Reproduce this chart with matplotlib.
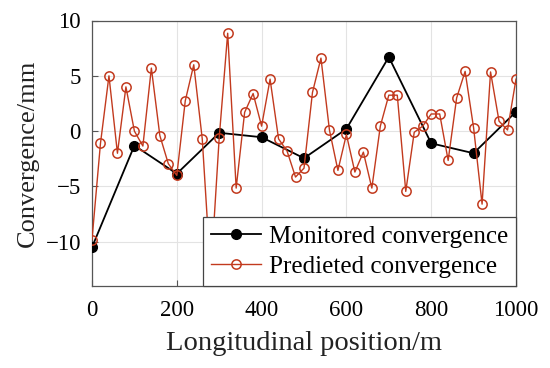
import matplotlib
matplotlib.use("Agg")
import matplotlib.pyplot as plt

mon_x = [0, 100, 200, 300, 400, 500, 600, 700, 800, 900, 1000]
mon_y = [-10.5, -1.3, -3.85, -0.15, -0.55, -2.45, 0.2, 6.7, -1.1, -2.0, 1.75]

pred_x = list(range(0, 1001, 20))
pred_y = [-9.8, -1.1, 5.0, -2.0, 4.0, 0.0, -1.35, 5.7, -0.4, -2.95,
          -4.0, 2.75, 6.0, -0.7, -13.0, -0.6, 8.85, -5.15, 1.7, 3.4,
          0.45, 4.7, -0.7, -1.8, -4.15, -3.35, 3.5, 6.6, 0.1, -3.55,
          -0.3, -3.7, -1.9, -5.15, 0.45, 3.25, 3.25, -5.45, -0.1, 0.45,
          1.55, 1.55, -2.65, 3.0, 5.4, 0.3, -6.6, 5.35, 0.9, 0.1,
          4.7]

x_ticks = [0, 200, 400, 600, 800, 1000]
y_ticks = [-10, -5, 0, 5, 10]

plt.rcParams['font.family'] = ['Liberation Serif', 'DejaVu Serif']

fig = plt.figure(figsize=(5.5, 3.68), dpi=100)
ax = fig.add_axes([92/550, 1-286/368, (516-92)/550, (286-20.5)/368])

red = '#c23a1e'
ax.plot(mon_x, mon_y, '-', color='black', lw=1.3, marker='o', ms=7,
        mfc='black', mec='black', label='Monitored convergence', zorder=3)
ax.plot(pred_x, pred_y, '-', color=red, lw=1.0, marker='o', ms=6.7,
        mfc='none', mec=red, mew=1.1, label='Predieted convergence', zorder=4)

ax.set_xlim(0, 1000)
ax.set_ylim(-14, 10)
ax.set_xticks(x_ticks)
ax.set_yticks(y_ticks)
ax.set_yticklabels(['\u221210', '\u22125', '0', '5', '10'])
ax.grid(True, color='#e3e3e3', lw=0.8)
ax.set_axisbelow(True)
ax.tick_params(direction='in', length=4, labelsize=16.5, color='#555555',
               top=False, right=False)
ax.tick_params(axis='x', pad=10)
ax.tick_params(axis='y', pad=8)
for s in ax.spines.values():
    s.set_color('#555555')
    s.set_linewidth(0.9)

ax.set_xlabel('Longitudinal position/m', fontsize=20.5, labelpad=7, color='#222222')
ax.set_ylabel('Convergence/mm', fontsize=19, labelpad=5, color='#222222')

leg = ax.legend(loc='lower right', borderaxespad=0, fontsize=18.1, frameon=True,
                fancybox=False, edgecolor='#444444', framealpha=1,
                handlelength=2.0, handletextpad=0.3, borderpad=0.32,
                labelspacing=0.3)
leg.get_frame().set_linewidth(0.9)
leg.set_zorder(10)

fig.savefig('out.png', dpi=100)
